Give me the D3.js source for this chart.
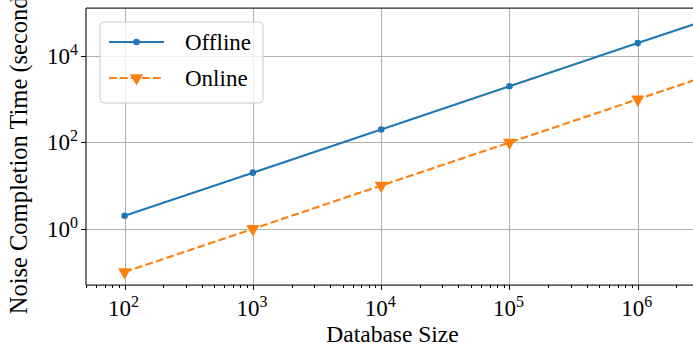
<!DOCTYPE html>
<html>
<head>
<meta charset="utf-8">
<script src="https://cdn.jsdelivr.net/npm/d3@7/dist/d3.min.js"></script>
<style>
  html, body { margin: 0; padding: 0; background: #fff; }
  svg { display: block; }
</style>
</head>
<body>
<svg id="chart" width="693" height="347"></svg>
<script>
// Database sizes and measured completion times (seconds)
const sizes = [1e2, 1e3, 1e4, 1e5, 1e6, 1e7];
const offlineTimes = [2, 20, 200, 2000, 20000, 200000];
const onlineTimes = [0.1, 1, 10, 100, 1000, 10000];
const seriesNames = ["Offline", "Online"];
const xTickExponents = [2, 3, 4, 5, 6];
const yTickExponents = [0, 2, 4];

const serif = "'Liberation Serif', 'Times New Roman', 'DejaVu Serif', serif";
const svg = d3.select("#chart").attr("font-family", serif);
const plotLeft = 86, plotRight = 699, plotTop = 8, plotBottom = 285;

const x = d3.scaleLog().domain([50, 3e6]).range([plotLeft, plotRight]);
const y = d3.scaleLog().domain([0.05, 1.3e5]).range([plotBottom, plotTop]);

const blue = "#1f77b4", orange = "#ff7f0e";

svg.append("defs").append("clipPath").attr("id", "plot-clip")
  .append("rect").attr("x", plotLeft).attr("y", plotTop)
  .attr("width", plotRight - plotLeft).attr("height", plotBottom - plotTop);

// grid
const grid = svg.append("g").attr("stroke", "#b0b0b0").attr("stroke-width", 1);
xTickExponents.forEach(e => {
  const px = Math.round(x(Math.pow(10, e))) + 0.5;
  grid.append("line").attr("x1", px).attr("x2", px).attr("y1", plotTop).attr("y2", plotBottom);
});
yTickExponents.forEach(e => {
  const py = Math.round(y(Math.pow(10, e))) + 0.5;
  grid.append("line").attr("x1", plotLeft).attr("x2", plotRight).attr("y1", py).attr("y2", py);
});

// series
const plot = svg.append("g").attr("clip-path", "url(#plot-clip)");
const line = d3.line().x((d, i) => x(sizes[i])).y(d => y(d));

plot.append("path").datum(offlineTimes)
  .attr("d", line).attr("fill", "none")
  .attr("stroke", blue).attr("stroke-width", 2.1);
plot.selectAll(".dot").data(offlineTimes).enter().append("circle")
  .attr("cx", (d, i) => x(sizes[i])).attr("cy", d => y(d))
  .attr("r", 3.3).attr("fill", blue);

plot.append("path").datum(onlineTimes)
  .attr("d", line).attr("fill", "none")
  .attr("stroke", orange).attr("stroke-width", 2.1)
  .attr("stroke-dasharray", "7.7,3.3");
const tri = d3.symbol().type(d3.symbolTriangle).size(75);
plot.selectAll(".tri").data(onlineTimes).enter().append("path")
  .attr("d", tri)
  .attr("transform", (d, i) => `translate(${x(sizes[i])},${y(d)}) rotate(180)`)
  .attr("fill", orange);

// spines
const spine = svg.append("g").attr("stroke", "#262626").attr("stroke-width", 1.25).attr("fill", "none");
spine.append("line").attr("x1", plotLeft).attr("x2", plotLeft).attr("y1", plotTop).attr("y2", plotBottom);
spine.append("line").attr("x1", plotLeft).attr("x2", plotRight).attr("y1", plotTop).attr("y2", plotTop);
spine.append("line").attr("x1", plotLeft).attr("x2", plotRight).attr("y1", plotBottom).attr("y2", plotBottom);
spine.append("line").attr("x1", plotRight).attr("x2", plotRight).attr("y1", plotTop).attr("y2", plotBottom);

// x ticks (major + minor) and y ticks
const ticks = svg.append("g").attr("stroke", "#000").attr("stroke-width", 1);
x.ticks().forEach(v => {
  const px = Math.round(x(v)) + 0.5;
  const major = Math.abs(Math.log10(v) - Math.round(Math.log10(v))) < 1e-9;
  ticks.append("line").attr("x1", px).attr("x2", px)
    .attr("y1", plotBottom).attr("y2", plotBottom + (major ? 5 : 3));
});
yTickExponents.forEach(e => {
  const py = Math.round(y(Math.pow(10, e))) + 0.5;
  ticks.append("line").attr("x1", plotLeft - 5).attr("x2", plotLeft).attr("y1", py).attr("y2", py);
});

function powerLabel(g, e, px, py, anchor) {
  const t = g.append("text").attr("x", px).attr("y", py)
    .attr("text-anchor", anchor).attr("font-size", 23).attr("fill", "#000");
  t.append("tspan").text("10");
  t.append("tspan").attr("dy", -9).attr("font-size", 16).text(e);
}
const labels = svg.append("g");
xTickExponents.forEach(e => powerLabel(labels, e, x(Math.pow(10, e)) - 1, 316, "middle"));
yTickExponents.forEach(e => powerLabel(labels, e, 78, y(Math.pow(10, e)) + 8, "end"));

// axis titles
svg.append("text").attr("x", (plotLeft + plotRight) / 2).attr("y", 341.5)
  .attr("text-anchor", "middle").attr("font-size", 23.5).attr("fill", "#000")
  .text("Database Size");
svg.append("text")
  .attr("transform", `translate(27,${(plotTop + plotBottom) / 2}) rotate(-90)`)
  .attr("text-anchor", "middle").attr("font-size", 24.5).attr("fill", "#000")
  .text("Noise Completion Time (seconds)");

// legend
const lg = svg.append("g");
lg.append("rect").attr("x", 100).attr("y", 22).attr("width", 163).attr("height", 81)
  .attr("rx", 4).attr("fill", "#fff").attr("fill-opacity", 0.8)
  .attr("stroke", "#cccccc").attr("stroke-width", 1);
const rows = [
  { name: seriesNames[0], color: blue, dash: null, y: 42 },
  { name: seriesNames[1], color: orange, dash: "7.7,3.3", y: 78 }
];
rows.forEach((r, i) => {
  lg.append("line").attr("x1", 109).attr("x2", 164).attr("y1", r.y).attr("y2", r.y)
    .attr("stroke", r.color).attr("stroke-width", 2.1)
    .attr("stroke-dasharray", r.dash);
  if (i === 0) {
    lg.append("circle").attr("cx", 136.5).attr("cy", r.y).attr("r", 3.3).attr("fill", r.color);
  } else {
    lg.append("path").attr("d", tri)
      .attr("transform", `translate(136.5,${r.y}) rotate(180)`).attr("fill", r.color);
  }
  lg.append("text").attr("x", 185).attr("y", r.y + 7.5).attr("font-size", 23)
    .attr("fill", "#000").text(r.name);
});
</script>
</body>
</html>
